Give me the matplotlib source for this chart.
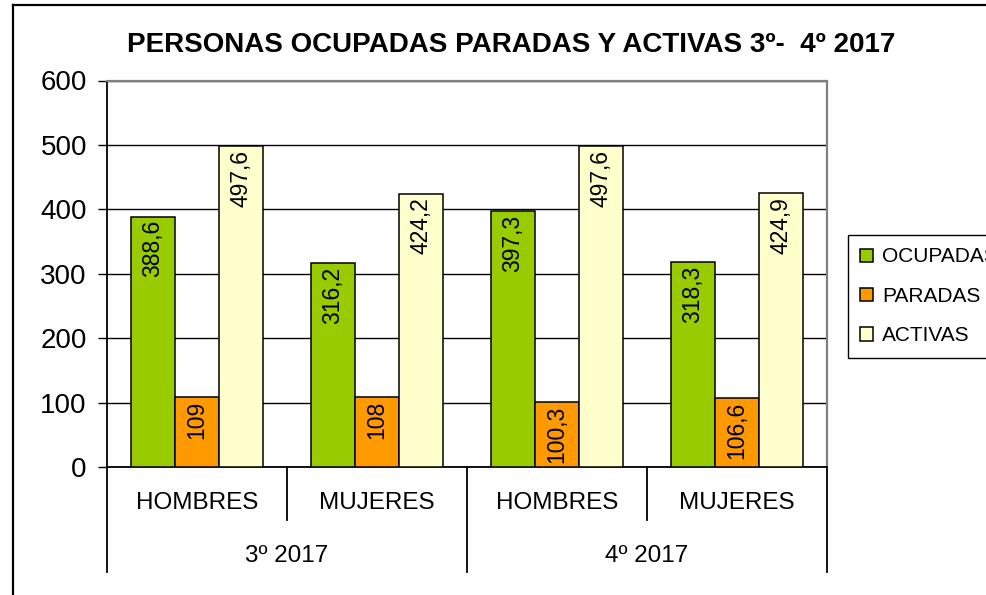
import matplotlib
matplotlib.use("Agg")
import matplotlib.pyplot as plt
from matplotlib.patches import Patch
from matplotlib.lines import Line2D
import numpy as np

plt.rcParams['font.family'] = ['Liberation Sans', 'DejaVu Sans']

title = "PERSONAS OCUPADAS PARADAS Y ACTIVAS 3º-  4º 2017"
categories = ["HOMBRES", "MUJERES", "HOMBRES", "MUJERES"]
periods = ["3º 2017", "4º 2017"]
series_names = ["OCUPADAS", "PARADAS", "ACTIVAS"]
ocupadas = [388.6, 316.2, 397.3, 318.3]
paradas = [109, 108, 100.3, 106.6]
activas = [497.6, 424.2, 497.6, 424.9]
colors = ["#99CC00", "#FF9900", "#FFFFCC"]
yticks = [0, 100, 200, 300, 400, 500, 600]

W, H = 987, 595
fig = plt.figure(figsize=(W / 100, H / 100), dpi=100)

# outer chart border (left & top visible)
fig.add_artist(Line2D([13 / W, 13 / W], [0, 1 - 5 / H], transform=fig.transFigure,
                      color="black", lw=1.6))
fig.add_artist(Line2D([13 / W, 1], [1 - 5 / H, 1 - 5 / H], transform=fig.transFigure,
                      color="black", lw=1.6))

left, right, top, bottom = 107, 827, 80.5, 467
ax = fig.add_axes([left / W, 1 - bottom / H, (right - left) / W, (bottom - top) / H])

x = np.arange(len(categories)) + 0.5
bw = 0.244
for i, (vals, col) in enumerate(zip([ocupadas, paradas, activas], colors)):
    xs = x + (i - 1) * bw
    ax.bar(xs, vals, width=bw, color=col, edgecolor="black", linewidth=1.1, zorder=3)
    for xx, v in zip(xs, vals):
        lab = f"{v:g}".replace(".", ",")
        ax.annotate(lab, (xx, v), xytext=(0, -2.5), textcoords="offset points",
                    rotation=90, ha="center", va="top", fontsize=16.5, zorder=4)

ax.set_xlim(0, 4)
ax.set_ylim(0, 600)
ax.set_yticks(yticks)
ax.set_yticklabels([str(t) for t in yticks], fontsize=20)
ax.tick_params(axis="y", direction="out", length=6.5, width=1, pad=8, colors="black")
ax.set_xticks([])
ax.grid(axis="y", color="black", linewidth=1, zorder=1)
ax.set_axisbelow(True)
for s in ["top", "right"]:
    ax.spines[s].set_color("#808080")
    ax.spines[s].set_linewidth(1.6)
for s in ["left", "bottom"]:
    ax.spines[s].set_color("black")
    ax.spines[s].set_linewidth(1.3)

# two-level category axis
ah = bottom - top
tr = ax.get_xaxis_transform()
for xv in [1, 3]:
    ax.add_artist(Line2D([xv, xv], [0, -53 / ah], transform=tr, color="black", lw=1.3, clip_on=False))
for xv in [0, 2, 4]:
    ax.add_artist(Line2D([xv, xv], [0, -105 / ah], transform=tr, color="black", lw=1.3, clip_on=False))
for xx, c in zip(x, categories):
    ax.text(xx, -36 / ah, c, transform=tr, ha="center", va="center", fontsize=17.5)
for j, p in enumerate(periods):
    ax.text(2 * j + 1, -89 / ah, p, transform=tr, ha="center", va="center", fontsize=17.5)

fig.text(511 / W, 1 - 45 / H, title, ha="center", va="center", fontsize=20, fontweight="bold")

handles = [Patch(facecolor=c, edgecolor="black", linewidth=1.1) for c in colors]
fig.legend(handles, series_names, loc="upper left", bbox_to_anchor=(848 / W, 1 - 235 / H),
           fontsize=15, frameon=True, fancybox=False, edgecolor="black", framealpha=1,
           handlelength=0.6, handleheight=0.6, handletextpad=0.45, labelspacing=0.98,
           borderpad=0.6, borderaxespad=0)

fig.savefig("out.png", dpi=100)
